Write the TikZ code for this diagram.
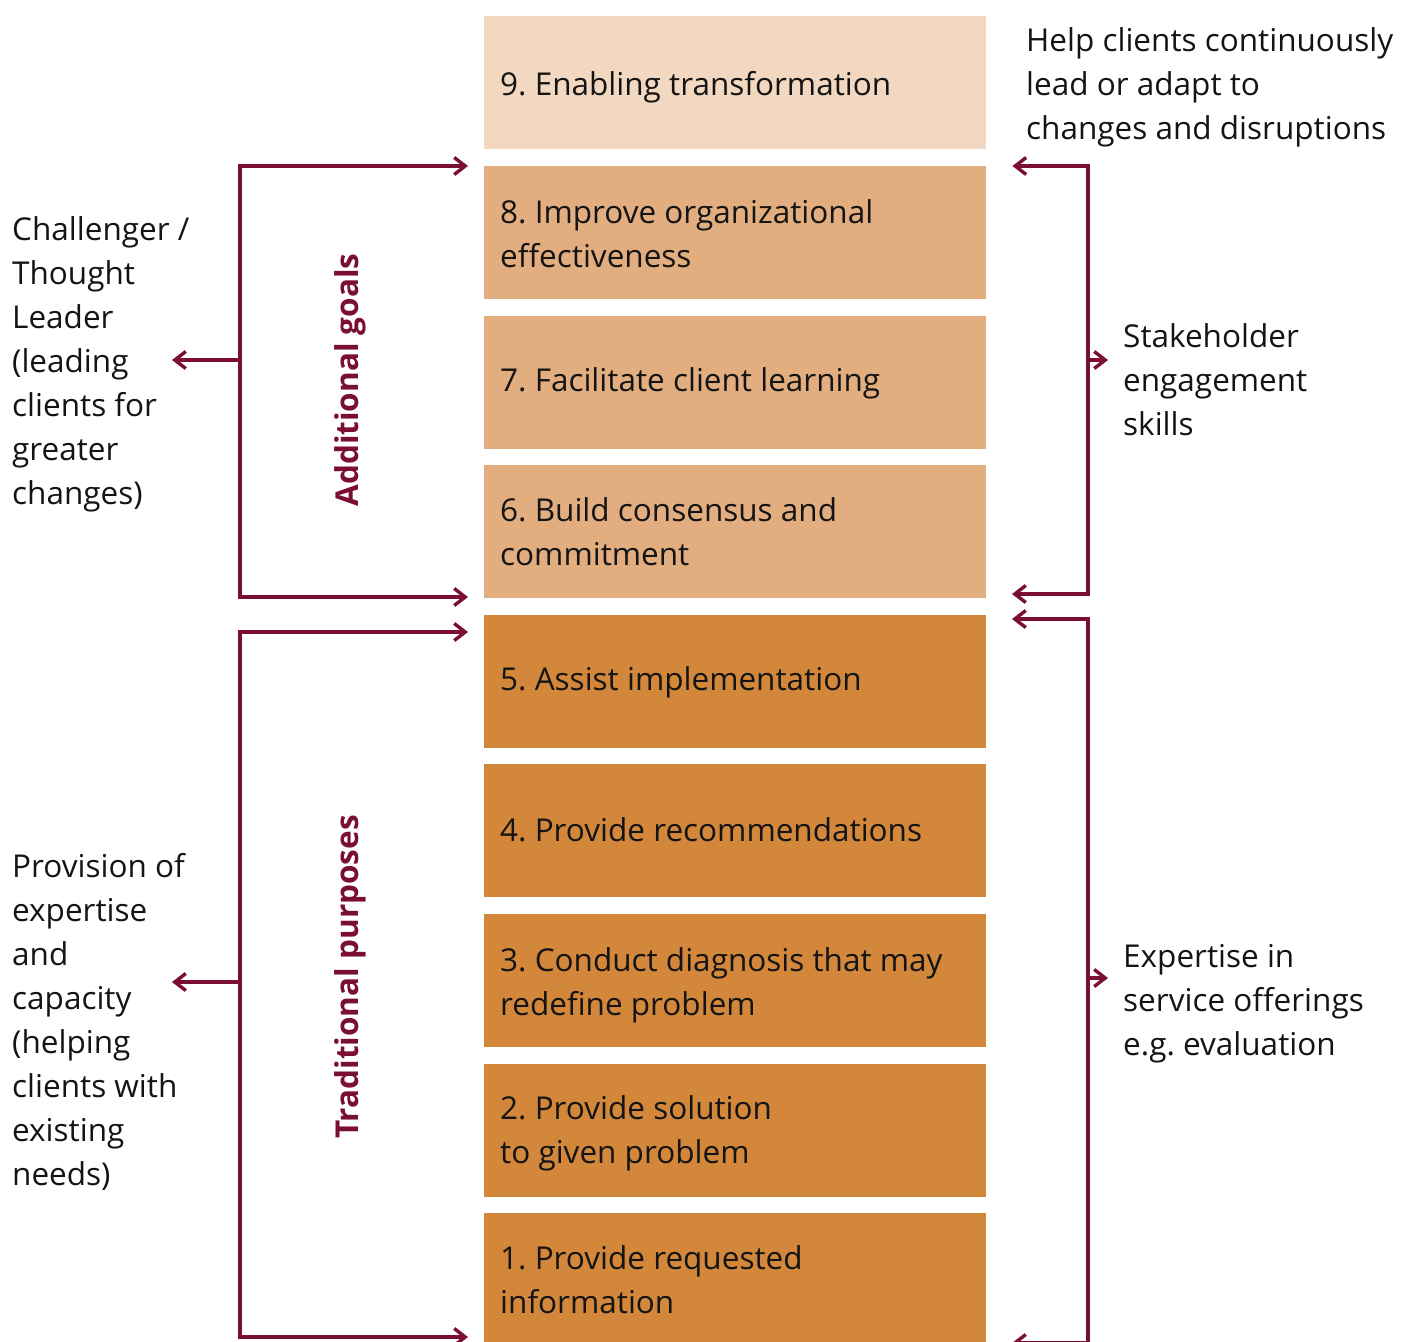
\documentclass[tikz,border=0pt]{standalone}
\usepackage{fontspec}
\setmainfont{Open Sans}
\usetikzlibrary{arrows.meta}
\definecolor{tierlight}{RGB}{242,216,192}
\definecolor{tiermid}{RGB}{226,174,128}
\definecolor{tierdark}{RGB}{210,135,58}
\definecolor{wine}{RGB}{122,14,52}
\definecolor{ink}{RGB}{20,20,20}
\begin{document}
\frenchspacing
\begin{tikzpicture}[x=1pt,y=-1pt,
  tier/.style={rectangle, minimum width=502pt, minimum height=133pt, inner sep=0pt, anchor=north west},
  tiertext/.style={anchor=west, align=left, inner sep=0pt, font=\fontsize{31.5}{44}\selectfont, text=ink},
  side/.style={align=left, font=\fontsize{31.5}{44}\selectfont, text=ink, inner sep=0pt},
  grouplabel/.style={rotate=90, font=\fontsize{31.5}{36}\selectfont\bfseries, text=wine},
  bracket/.style={draw=wine, line width=3.4pt},
  feed/.style={draw=wine, line width=3.4pt, -{Straight Barb[length=11pt,width=17pt,line width=3.4pt]}}]
\useasboundingbox (0,0) rectangle (1401,1342);
\clip (0,0) rectangle (1401,1342);

% the nine tiers
\foreach \n/\top/\col in {9/16/tierlight,8/166/tiermid,7/316/tiermid,6/465/tiermid,
  5/615/tierdark,4/764/tierdark,3/914/tierdark,2/1064/tierdark,1/1213/tierdark}
  \node[tier, fill=\col] (b\n) at (484,\top) {};

\node[tiertext] at ([xshift=16pt,yshift=-5pt]b9.west) {9. Enabling transformation};
\node[tiertext] at ([xshift=16pt,yshift=-1pt]b8.west) {8. Improve organizational\\effectiveness};
\node[tiertext] at ([xshift=16pt,yshift=-1pt]b7.west) {7. Facilitate client learning};
\node[tiertext] at ([xshift=16pt,yshift=0pt]b6.west) {6. Build consensus and\\commitment};
\node[tiertext] at ([xshift=16pt,yshift=-1pt]b5.west) {5. Assist implementation};
\node[tiertext] at ([xshift=16pt,yshift=1pt]b4.west) {4. Provide recommendations};
\node[tiertext] at ([xshift=16pt,yshift=-5pt]b3.west) {3. Conduct diagnosis that may\\redefine problem};
\node[tiertext] at ([xshift=16pt,yshift=-3pt]b2.west) {2. Provide solution\\to given problem};
\node[tiertext] at ([xshift=16pt,yshift=0pt]b1.west) {1. Provide requested\\information};

% group labels
\node[grouplabel] (gadd) at (350,380) {Additional goals};
\node[grouplabel] (gtrad) at (350,977) {Traditional purposes};

% left texts
\node[side, anchor=west] (lup) at (12,364) {Challenger /\\Thought\\Leader\\(leading\\clients for\\greater\\changes)};
\node[side, anchor=west] (llo) at (12,1022) {Provision of\\expertise\\and\\capacity\\(helping\\clients with\\existing\\needs)};

% right texts
\node[side, anchor=west] (rtop) at (1026,87) {Help clients continuously\\lead or adapt to\\changes and disruptions};
\node[side, anchor=west] (rup) at (1123,380) {Stakeholder\\engagement\\skills};
\node[side, anchor=west] (rlo) at (1123,1004) {Expertise in\\service offerings\\e.g. evaluation};

% left brackets
\coordinate (la1) at (240,166);  \coordinate (la2) at (240,597);
\coordinate (la3) at (240,632);  \coordinate (la4) at (240,1337);
\coordinate (lm1) at (240,360);  \coordinate (lm2) at (240,982);
\draw[bracket] (la1) -- (la2);
\draw[bracket] (la3) -- (la4);
\draw[feed] ([xshift=-1.7pt]la1) -- ([xshift=-16pt]b8.north west);
\draw[feed] ([xshift=-1.7pt]la2) -- (468,597);
\draw[feed] ([xshift=-1.7pt]la3) -- (468,632);
\draw[feed] ([xshift=-1.7pt]la4) -- (468,1337);
\draw[feed] (lm1) -- (172,360);
\draw[feed] (lm2) -- (172,982);

% right brackets
\coordinate (ra1) at (1088,166);  \coordinate (ra2) at (1088,594);
\coordinate (ra3) at (1088,619);  \coordinate (ra4) at (1088,1343);
\coordinate (rm1) at (1088,360);  \coordinate (rm2) at (1088,978);
\draw[bracket] (ra1) -- (ra2);
\draw[bracket] (ra3) -- (ra4);
\draw[feed] ([xshift=1.7pt]ra1) -- ([xshift=26pt]b8.north east);
\draw[feed] ([xshift=1.7pt]ra2) -- (1012,594);
\draw[feed] ([xshift=1.7pt]ra3) -- (1012,619);
\draw[feed] ([xshift=1.7pt]ra4) -- (1012,1343);
\draw[feed] (rm1) -- (1108,360);
\draw[feed] (rm2) -- (1108,978);
\end{tikzpicture}
\end{document}
